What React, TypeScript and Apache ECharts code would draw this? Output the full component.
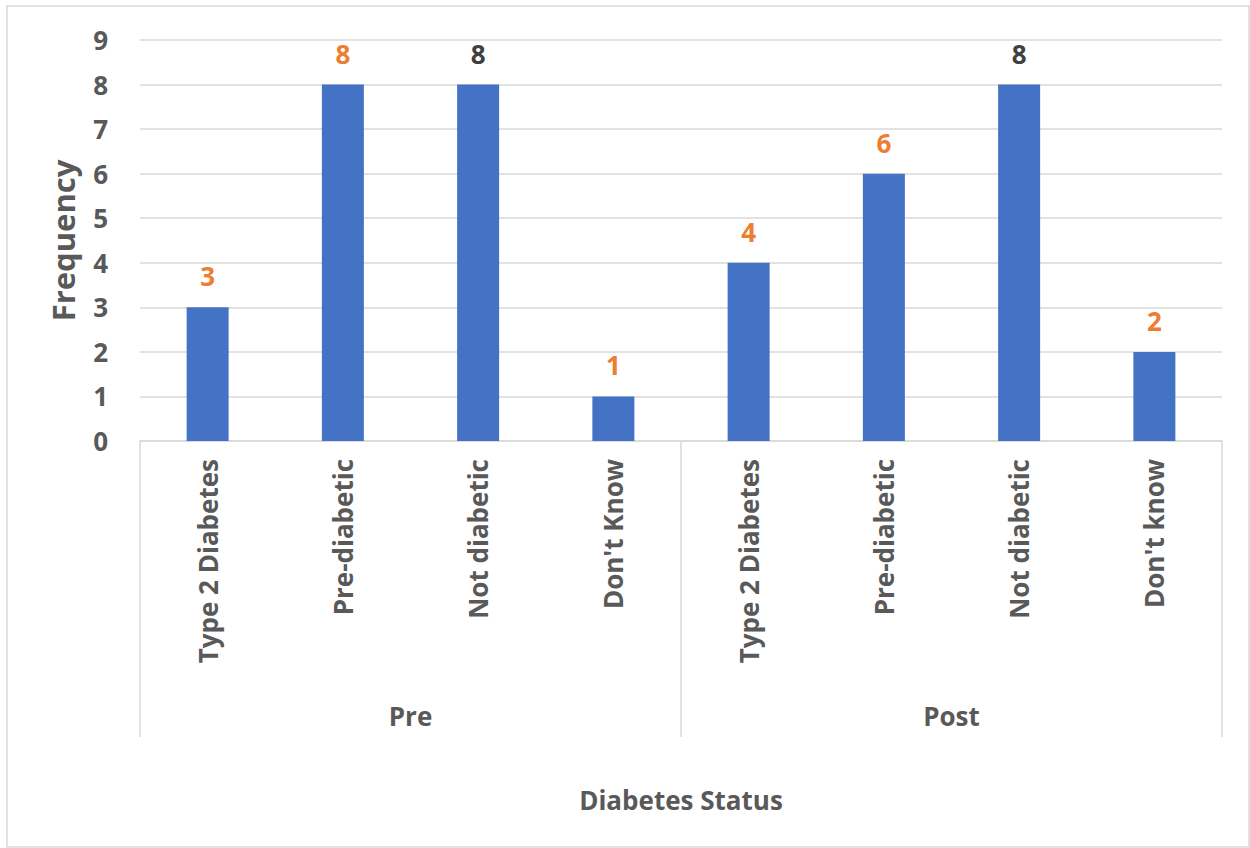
import React, { useEffect, useRef } from "react";
import * as echarts from "echarts";

const categories = [
  "Type 2 Diabetes",
  "Pre-diabetic",
  "Not diabetic",
  "Don't Know",
  "Type 2 Diabetes",
  "Pre-diabetic",
  "Not diabetic",
  "Don't know",
];
const groups = ["Pre", "Post"];
const frequency = [3, 8, 8, 1, 4, 6, 8, 2];
// label colour per bar: orange highlights, dark grey for "Not diabetic"
const labelColors = ["#ED7D31", "#ED7D31", "#404040", "#ED7D31", "#ED7D31", "#ED7D31", "#404040", "#ED7D31"];
const yTicks = [0, 1, 2, 3, 4, 5, 6, 7, 8, 9];

const FONT = "'Open Sans', 'Noto Sans', sans-serif";
const GREY = "#595959";
const LINE = "#D9D9D9";

export default function App() {
  const ref = useRef<HTMLDivElement>(null);

  useEffect(() => {
    if (!ref.current) return;
    const chart = echarts.init(ref.current, null, { renderer: "svg" });
    chart.setOption({
      animation: false,
      backgroundColor: "#ffffff",
      textStyle: { fontFamily: FONT },
      grid: { left: 140, right: 28, top: 40, bottom: 407, containLabel: false },
      graphic: [
        {
          type: "rect",
          shape: { x: 7, y: 6, width: 1242, height: 841 },
          style: { fill: "none", stroke: LINE, lineWidth: 1.5 },
          silent: true,
        },
      ],
      xAxis: [
        {
          type: "category",
          data: categories,
          axisLine: { show: true, lineStyle: { color: LINE, width: 1.5 } },
          axisTick: { show: false },
          axisLabel: {
            rotate: 90,
            interval: 0,
            margin: 18,
            color: GREY,
            fontSize: 26,
            fontWeight: "bold",
            fontFamily: FONT,
          },
        },
        {
          type: "category",
          data: groups,
          position: "bottom",
          axisLine: { show: false },
          axisTick: { show: true, length: 296, lineStyle: { color: LINE, width: 1.5 } },
          axisLabel: {
            margin: 262,
            color: GREY,
            fontSize: 26,
            fontWeight: "bold",
            fontFamily: FONT,
          },
          name: "Diabetes Status",
          nameLocation: "middle",
          nameGap: 346,
          nameTextStyle: { color: GREY, fontSize: 26, fontWeight: "bold", fontFamily: FONT },
        },
      ],
      yAxis: {
        type: "value",
        min: yTicks[0],
        max: yTicks[yTicks.length - 1],
        interval: 1,
        axisLine: { show: false },
        axisTick: { show: false },
        splitLine: { lineStyle: { color: LINE, width: 1.5 } },
        axisLabel: {
          margin: 32,
          color: GREY,
          fontSize: 26,
          fontWeight: "bold",
          fontFamily: FONT,
        },
        name: "Frequency",
        nameLocation: "middle",
        nameGap: 62,
        nameTextStyle: { color: GREY, fontSize: 31, fontWeight: "bold", fontFamily: FONT },
      },
      series: [
        {
          type: "bar",
          xAxisIndex: 0,
          barWidth: 42,
          itemStyle: { color: "#4472C4" },
          data: frequency.map((v, i) => ({
            value: v,
            label: { color: labelColors[i] },
          })),
          label: {
            show: true,
            position: "top",
            distance: 18,
            fontSize: 26,
            fontWeight: "bold",
            fontFamily: FONT,
          },
        },
      ],
    });
    return () => chart.dispose();
  }, []);

  return (
    <div
      ref={ref}
      style={{ position: "absolute", left: 0, top: 0, width: 1250, height: 848 }}
    />
  );
}
